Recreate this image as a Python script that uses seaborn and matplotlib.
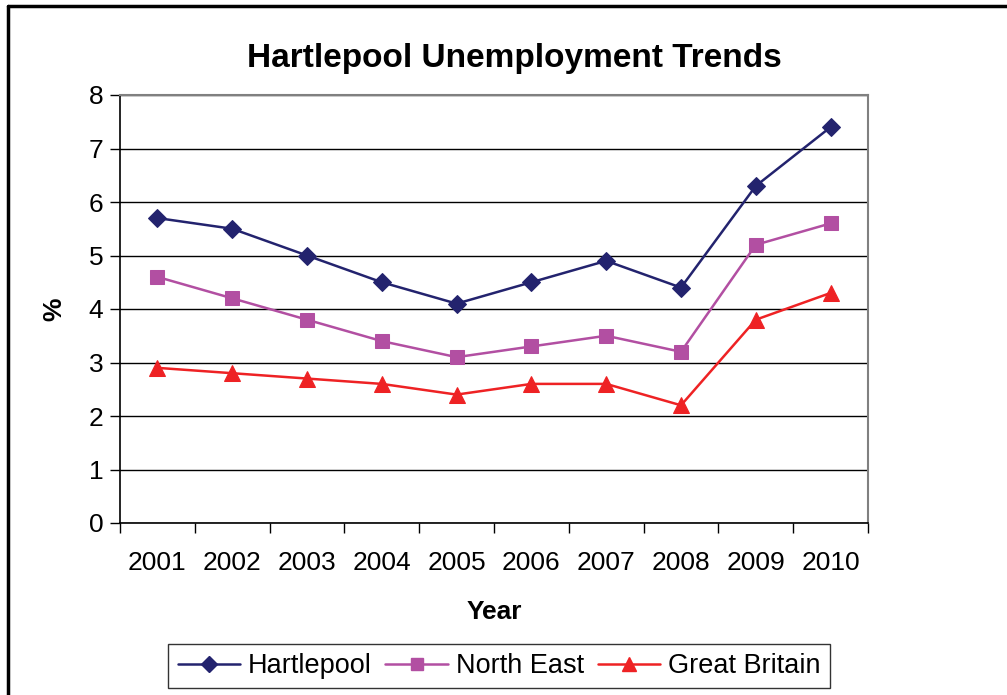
import matplotlib
matplotlib.use("Agg")
import matplotlib.pyplot as plt
import matplotlib.ticker as ticker
from matplotlib.lines import Line2D
import pandas as pd
import seaborn as sns

# data
years = [2001, 2002, 2003, 2004, 2005, 2006, 2007, 2008, 2009, 2010]
hartlepool = [5.7, 5.5, 5.0, 4.5, 4.1, 4.5, 4.9, 4.4, 6.3, 7.4]
north_east = [4.6, 4.2, 3.8, 3.4, 3.1, 3.3, 3.5, 3.2, 5.2, 5.6]
great_britain = [2.9, 2.8, 2.7, 2.6, 2.4, 2.6, 2.6, 2.2, 3.8, 4.3]
series_names = ["Hartlepool", "North East", "Great Britain"]
y_ticks = [0, 1, 2, 3, 4, 5, 6, 7, 8]

df = pd.DataFrame({
    "year": years * 3,
    "value": hartlepool + north_east + great_britain,
    "area": [n for n in series_names for _ in years],
})

sns.set_style("white")
plt.rcParams["font.family"] = ["Liberation Sans", "DejaVu Sans"]
plt.rcParams["text.color"] = "black"
plt.rcParams["axes.labelcolor"] = "black"
plt.rcParams["xtick.color"] = "black"
plt.rcParams["ytick.color"] = "black"

colors = {"Hartlepool": "#23236e", "North East": "#b24fa2", "Great Britain": "#ee2224"}
markers = {"Hartlepool": "D", "North East": "s", "Great Britain": "^"}
msizes = {"Hartlepool": 9, "North East": 10, "Great Britain": 11}

fig = plt.figure(figsize=(10.07, 6.95), dpi=100)
ax = fig.add_axes([120 / 1007, 1 - 523 / 695, 748 / 1007, 428 / 695])

for name in series_names:
    sub = df[df["area"] == name]
    sns.lineplot(data=sub, x="year", y="value", ax=ax, color=colors[name],
                 marker=markers[name], markersize=msizes[name],
                 markeredgecolor=colors[name], linewidth=1.8, label=name,
                 legend=False)

ax.set_ylim(0, 8)
ax.set_xlim(years[0] - 0.5, years[-1] + 0.5)
ax.set_yticks(y_ticks)
ax.yaxis.grid(True, color="black", linewidth=1)
ax.set_axisbelow(True)

# category axis: tick marks between categories, labels at centres
ax.xaxis.set_major_locator(ticker.FixedLocator([y - 0.5 for y in years] + [years[-1] + 0.5]))
ax.xaxis.set_major_formatter(ticker.NullFormatter())
ax.xaxis.set_minor_locator(ticker.FixedLocator(years))
ax.xaxis.set_minor_formatter(ticker.FixedFormatter([str(y) for y in years]))
ax.tick_params(axis="x", which="major", direction="out", length=7, width=1, color="black", bottom=True)
ax.tick_params(axis="x", which="minor", length=0, labelsize=19, pad=20)
ax.tick_params(axis="y", direction="out", length=7, width=1, color="black", left=True,
               labelsize=19, pad=5)

for side in ["left", "bottom"]:
    ax.spines[side].set_color("black")
    ax.spines[side].set_linewidth(1.2)
for side in ["top", "right"]:
    ax.spines[side].set_color("#808080")
    ax.spines[side].set_linewidth(1.5)

ax.set_xlabel("Year", fontsize=19, fontweight="bold", labelpad=18)
ax.set_ylabel("%", fontsize=19, fontweight="bold", labelpad=16)
ax.set_title("Hartlepool Unemployment Trends", fontsize=24, fontweight="bold", pad=20,
             x=0.527)

handles = [Line2D([], [], color=colors[n], marker=markers[n], markersize=msizes[n] - 1,
                  linewidth=1.8) for n in series_names]
leg = fig.legend(handles, series_names, loc="center", bbox_to_anchor=(499 / 1007, 1 - 666 / 695),
                 ncol=3, fontsize=19.5, frameon=True, fancybox=False, edgecolor="black",
                 handlelength=2.3, handletextpad=0.3, columnspacing=0.5,
                 borderpad=0.35, borderaxespad=0)
leg.get_frame().set_linewidth(1)

# outer border (left and top edges)
fig.add_artist(Line2D([8 / 1007, 8 / 1007], [0, 1 - 6 / 695], color="black", linewidth=2.5,
                      transform=fig.transFigure))
fig.add_artist(Line2D([8 / 1007, 1], [1 - 6 / 695, 1 - 6 / 695], color="black", linewidth=2.5,
                      transform=fig.transFigure))

fig.savefig("out.png", dpi=100)
